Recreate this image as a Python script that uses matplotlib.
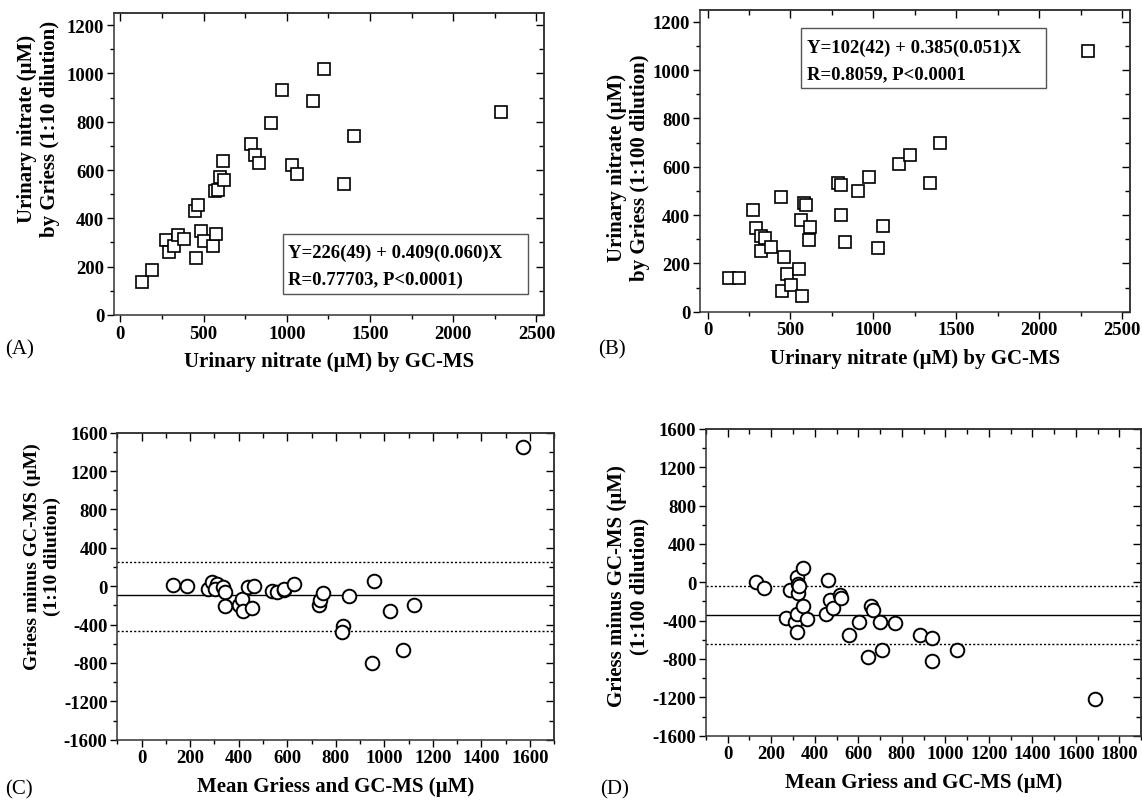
import matplotlib
matplotlib.use("Agg")
import matplotlib.pyplot as plt
from matplotlib.ticker import MultipleLocator
from matplotlib.patches import Rectangle

plt.rcParams["font.family"] = ["Liberation Serif", "DejaVu Serif"]
plt.rcParams["font.weight"] = "bold"
plt.rcParams["axes.unicode_minus"] = False

# ===== DATA =====
# (A) GC-MS vs Griess 1:10
gc_a = [130, 190, 276, 294, 320, 346, 384, 450, 468, 452, 484, 504, 558, 572, 566, 584,
        600, 620, 618, 788, 808, 834, 906, 974, 1156, 1224, 1032, 1060, 1406, 1344, 2290]
griess_a = [135, 185, 310, 262, 286, 330, 313, 432, 457, 237, 347, 306, 284, 336, 512, 519,
            570, 560, 637, 708, 662, 629, 796, 931, 886, 1017, 620, 582, 740, 544, 839]
fit_a = ["Y=226(49) + 0.409(0.060)X", "R=0.77703, P<0.0001)"]

# (B) GC-MS vs Griess 1:100
gc_b = [130, 190, 272, 292, 324, 344, 320, 382, 444, 464, 482, 452, 506, 550, 564, 570,
        584, 594, 616, 614, 786, 806, 806, 830, 906, 974, 1030, 1058, 1154, 1222, 1342,
        1404, 2294]
griess_b = [138, 141, 422, 348, 312, 305, 250, 266, 476, 228, 154, 87, 110, 177, 379, 63,
            450, 441, 349, 298, 531, 524, 400, 287, 498, 557, 262, 356, 612, 648, 534,
            700, 1079]
fit_b = ["Y=102(42) + 0.385(0.051)X", "R=0.8059, P<0.0001"]

# (C) Bland-Altman 1:10
mean_c = [128, 187, 273, 289, 310, 303, 335, 343, 344, 401, 413, 418, 438, 453, 462, 539,
          559, 587, 587, 628, 730, 735, 748, 854, 828, 824, 958, 948, 1024, 1075, 1124, 1572]
diff_c = [9, -2, -26, 44, 19, -33, -9, -61, -211, -200, -131, -263, -9, -225, -2, -51,
          -61, -44, -26, 26, -193, -148, -71, -106, -416, -479, 51, -799, -263, -660, -200, 1455]
bias_c = -89
loa_c = [253, -472]

# (D) Bland-Altman 1:100
mean_d = [130, 165, 268, 284, 309, 317, 318, 321, 323, 327, 318, 346, 347, 365, 451, 460,
          471, 482, 517, 521, 558, 602, 659, 667, 647, 702, 711, 768, 884, 937, 940, 1055, 1690]
diff_d = [7, -56, -374, -77, -409, -514, 52, -17, -115, -35, -332, 147, -245, -385, -332, 24,
          -189, -273, -133, -168, -553, -413, -252, -294, -780, -413, -706, -423, -549, -584,
          -822, -710, -1217]
bias_d = -346
loa_d = [-35, -647]

fig = plt.figure(figsize=(11.42, 8.03), dpi=100)


# ===== AXIS STYLE =====
def style_axes(ax, xmaj, xmin, ymaj, ymin):
    ax.xaxis.set_major_locator(MultipleLocator(xmaj))
    ax.xaxis.set_minor_locator(MultipleLocator(xmin))
    ax.yaxis.set_major_locator(MultipleLocator(ymaj))
    ax.yaxis.set_minor_locator(MultipleLocator(ymin))
    ax.tick_params(which="major", direction="out", length=5, width=1, labelsize=13.5, pad=2)
    ax.tick_params(which="minor", direction="out", length=3, width=1)
    for s in ax.spines.values():
        s.set_linewidth(1.1)
        s.set_color("#333333")
    # inward ticks on top and right
    top = ax.secondary_xaxis("top")
    right = ax.secondary_yaxis("right")
    top.xaxis.set_major_locator(MultipleLocator(xmaj))
    top.xaxis.set_minor_locator(MultipleLocator(xmin))
    right.yaxis.set_major_locator(MultipleLocator(ymaj))
    right.yaxis.set_minor_locator(MultipleLocator(ymin))
    top.tick_params(which="both", direction="in", labeltop=False, width=1)
    top.tick_params(which="major", length=6)
    top.tick_params(which="minor", length=3.5)
    right.tick_params(which="both", direction="in", labelright=False, width=1)
    right.tick_params(which="major", length=6)
    right.tick_params(which="minor", length=3.5)
    for ax2 in (top, right):
        for s in ax2.spines.values():
            s.set_linewidth(1.1)
            s.set_color("#333333")


def fit_box(ax, lines, x0, x1, y0, y1, tx, ty):
    ax.add_patch(Rectangle((x0, y0), x1 - x0, y1 - y0, transform=ax.transAxes,
                           fc="white", ec="#555555", lw=1, zorder=3))
    for line, y in zip(lines, ty):
        ax.text(tx, y, line, transform=ax.transAxes, fontsize=13.5, fontweight="bold",
                ha="left", va="center", zorder=4)


# ===== PANEL A =====
axA = fig.add_axes([0.0998, 0.6065, 0.3765, 0.3761])
axA.plot(gc_a, griess_a, "s", ms=8.8, mfc="white", mec="black", mew=1.2, ls="none")
axA.set_xlim(-38, 2545)
axA.set_ylim(0, 1250)
style_axes(axA, 500, 250, 200, 100)
axA.set_xlabel("Urinary nitrate (\u00b5M) by GC-MS", fontsize=15, fontweight="bold", labelpad=7)
axA.set_ylabel("Urinary nitrate (\u00b5M)\nby Griess (1:10 dilution)", fontsize=15,
               fontweight="bold")
axA.yaxis.set_label_coords(-0.126, 0.62)
fit_box(axA, fit_a, 0.393, 0.963, 0.0695, 0.268, 0.405, [0.209, 0.119])

# ===== PANEL B =====
axB = fig.add_axes([0.613, 0.6106, 0.3765, 0.3761])
axB.plot(gc_b, griess_b, "s", ms=8.8, mfc="white", mec="black", mew=1.2, ls="none")
axB.set_xlim(-45, 2547)
axB.set_ylim(0, 1250)
style_axes(axB, 500, 250, 200, 100)
axB.set_xlabel("Urinary nitrate (\u00b5M) by GC-MS", fontsize=15, fontweight="bold", labelpad=7)
axB.set_ylabel("Urinary nitrate (\u00b5M)\nby Griess (1:100 dilution)", fontsize=15,
               fontweight="bold")
axB.yaxis.set_label_coords(-0.117, 0.48)
fit_box(axB, fit_b, 0.235, 0.805, 0.74, 0.938, 0.248, [0.875, 0.787])

# ===== PANEL C =====
axC = fig.add_axes([0.1027, 0.0776, 0.3827, 0.3823])
axC.axhline(bias_c, color="black", lw=1)
for v in loa_c:
    axC.axhline(v, color="black", lw=1, ls=(0, (1.5, 1.5)))
axC.plot(mean_c, diff_c, "o", ms=9.8, mfc="white", mec="black", mew=1.4, ls="none")
axC.set_xlim(-100, 1700)
axC.set_ylim(-1600, 1600)
style_axes(axC, 200, 100, 400, 200)
axC.set_xlabel("Mean Griess and GC-MS (\u00b5M)", fontsize=15, fontweight="bold", labelpad=7)
axC.set_ylabel("Griess minus GC-MS (\u00b5M)\n(1:10 dilution)", fontsize=14,
               fontweight="bold")
axC.yaxis.set_label_coords(-0.128, 0.6)

# ===== PANEL D =====
axD = fig.add_axes([0.6182, 0.0826, 0.381, 0.382])
axD.axhline(bias_d, color="black", lw=1)
for v in loa_d:
    axD.axhline(v, color="black", lw=1, ls=(0, (1.5, 1.5)))
axD.plot(mean_d, diff_d, "o", ms=9.8, mfc="white", mec="black", mew=1.4, ls="none")
axD.set_xlim(-100, 1900)
axD.set_ylim(-1600, 1600)
style_axes(axD, 200, 100, 400, 200)
axD.set_xlabel("Mean Griess and GC-MS (\u00b5M)", fontsize=15, fontweight="bold", labelpad=7)
axD.set_ylabel("Griess minus GC-MS (\u00b5M)\n(1:100 dilution)", fontsize=15,
               fontweight="bold")
axD.yaxis.set_label_coords(-0.129, 0.49)

# ===== PANEL LETTERS =====
for x, y, lab in [(5, 350, "(A)"), (598, 350, "(B)"), (5, 790, "(C)"), (600, 790, "(D)")]:
    fig.text(x / 1142, 1 - y / 803, lab, fontsize=15, fontweight="normal", va="center")

fig.savefig("out.png", dpi=100)
